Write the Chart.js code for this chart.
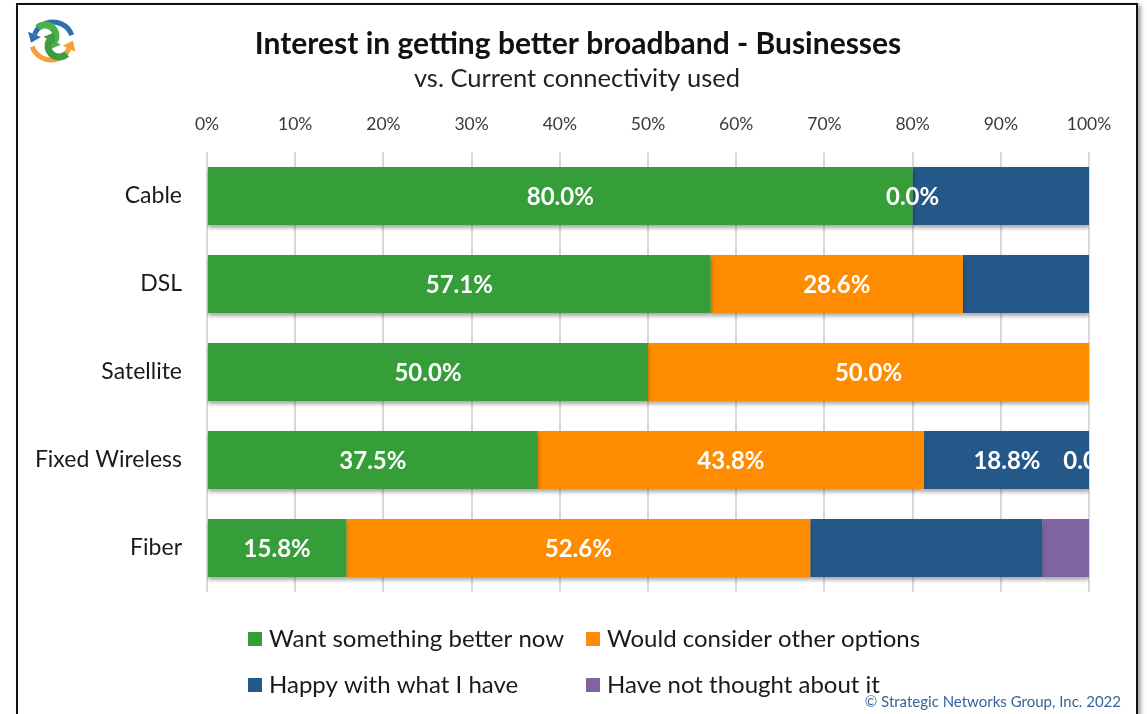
<!DOCTYPE html>
<html>
<head>
<meta charset="utf-8">
<title>Interest in getting better broadband - Businesses</title>
<script src="https://cdn.jsdelivr.net/npm/chart.js@4.4.1/dist/chart.umd.min.js"></script>
<style>
  html, body { margin: 0; padding: 0; background: #fff; }
  #wrap { position: relative; width: 1147px; height: 714px; overflow: hidden; }
  #frame {
    position: absolute; left: 16px; top: 3px; width: 1118px; height: 760px;
    border: 2px solid #111; box-shadow: 3px 2px 4px rgba(0, 0, 0, 0.35);
  }
  canvas { position: absolute; left: 0; top: 0; }
</style>
</head>
<body>
<div id="wrap">
  <div id="frame"></div>
  <canvas id="chart" width="1147" height="714"></canvas>
</div>
<script>
// connection types (rows)
const connections = ["Cable", "DSL", "Satellite", "Fixed Wireless", "Fiber"];

// share of businesses per answer, in %
const wantBetter    = [80.0, 57.1, 50.0, 37.5, 15.8];
const considerOther = [0.0, 28.6, 50.0, 43.8, 52.6];
const happyNow      = [20.0, 14.3, 0.0, 18.8, 26.3];
const notThought    = [0.0, 0.0, 0.0, 0.0, 5.3];

// which segments carry a value label
const labelWant     = [true, true, true, true, true];
const labelConsider = [true, true, true, true, true];
const labelHappy    = [false, false, false, true, false];
const labelNot      = [false, false, false, true, false];

// percent axis
const axisMax = 100;
const axisStep = 10;

const FONT = "Lato, 'Open Sans', sans-serif";

function arrowArc(ctx, cx, cy, r, a0, a1, ccw, color, w) {
  ctx.strokeStyle = color;
  ctx.fillStyle = color;
  ctx.lineWidth = w;
  ctx.lineCap = "butt";
  ctx.beginPath();
  ctx.arc(cx, cy, r, a0, a1, ccw);
  ctx.stroke();
  // head at the end of the arc, pointing along the tangent
  const ex = cx + r * Math.cos(a1), ey = cy + r * Math.sin(a1);
  const dir = a1 + (ccw ? -Math.PI / 2 : Math.PI / 2);
  const tx = Math.cos(dir), ty = Math.sin(dir);
  const nx = -ty, ny = tx;
  ctx.beginPath();
  ctx.moveTo(ex + tx * 9, ey + ty * 9);
  ctx.lineTo(ex + nx * 7, ey + ny * 7);
  ctx.lineTo(ex - nx * 7, ey - ny * 7);
  ctx.closePath();
  ctx.fill();
}

const decorations = {
  id: "decorations",
  afterDraw(chart) {
    const ctx = chart.ctx;
    ctx.save();

    // logo
    arrowArc(ctx, 53, 42, 20, -0.35, -2.75, true, "#2f6fb0", 5);
    arrowArc(ctx, 51, 40, 20, 2.8, 0.45, true, "#f5a03a", 5);
    arrowArc(ctx, 45, 36, 11, -2.3, 0.5, false, "#4caf50", 7);
    arrowArc(ctx, 59, 46, 11, 0.8, -2.6, false, "#3d9c40", 7);

    // titles
    ctx.fillStyle = "#111";
    ctx.textAlign = "center";
    ctx.textBaseline = "alphabetic";
    ctx.font = "bold 30px " + FONT;
    ctx.fillText("Interest in getting better broadband - Businesses", 578, 54);
    ctx.font = "25.5px " + FONT;
    ctx.fillStyle = "#222";
    ctx.fillText("vs. Current connectivity used", 577, 87);

    // legend, two columns
    const cols = [248, 586];
    const rows = [639, 685];
    ctx.textAlign = "left";
    ctx.textBaseline = "middle";
    ctx.font = "24px " + FONT;
    chart.data.datasets.forEach((ds, i) => {
      const x = cols[i % 2], y = rows[Math.floor(i / 2)];
      ctx.fillStyle = ds.backgroundColor;
      ctx.fillRect(x, y - 7, 14, 14);
      ctx.fillStyle = "#1a1a1a";
      ctx.fillText(ds.label, x + 21, y);
    });

    // copyright
    ctx.font = "15px " + FONT;
    ctx.fillStyle = "#36639a";
    ctx.textAlign = "right";
    ctx.fillText("\u00a9 Strategic Networks Group, Inc. 2022", 1121, 702);
    ctx.restore();
  }
};

const barShadow = {
  id: "barShadow",
  beforeDatasetsDraw(chart) {
    const ctx = chart.ctx;
    ctx.save();
    ctx.shadowColor = "rgba(0, 0, 0, 0.35)";
    ctx.shadowBlur = 4;
    ctx.shadowOffsetX = 0;
    ctx.shadowOffsetY = 3;
  },
  afterDatasetsDraw(chart) {
    chart.ctx.restore();
  }
};

const segmentLabels = {
  id: "segmentLabels",
  afterDatasetsDraw(chart) {
    const ctx = chart.ctx;
    const a = chart.chartArea;
    ctx.save();
    ctx.beginPath();
    ctx.rect(a.left, a.top, a.right - a.left, a.bottom - a.top);
    ctx.clip();
    ctx.font = "bold 24px " + FONT;
    ctx.fillStyle = "#fff";
    ctx.textAlign = "center";
    ctx.textBaseline = "middle";
    chart.data.datasets.forEach((ds, i) => {
      chart.getDatasetMeta(i).data.forEach((bar, j) => {
        if (!ds.showLabel[j]) return;
        ctx.fillText(ds.data[j].toFixed(1) + "%", (bar.x + bar.base) / 2, bar.y + 1);
      });
    });
    ctx.restore();
  }
};

new Chart(document.getElementById("chart"), {
  type: "bar",
  data: {
    labels: connections,
    datasets: [
      { label: "Want something better now", data: wantBetter, backgroundColor: "#359e39", showLabel: labelWant },
      { label: "Would consider other options", data: considerOther, backgroundColor: "#ff8c00", showLabel: labelConsider },
      { label: "Happy with what I have", data: happyNow, backgroundColor: "#235889", showLabel: labelHappy },
      { label: "Have not thought about it", data: notThought, backgroundColor: "#8064a2", showLabel: labelNot }
    ]
  },
  options: {
    indexAxis: "y",
    responsive: false,
    animation: false,
    devicePixelRatio: 1,
    barPercentage: 0.66,
    categoryPercentage: 1.0,
    layout: { padding: { left: 20, top: 100, right: 58, bottom: 122 } },
    plugins: {
      legend: { display: false },
      title: { display: false },
      tooltip: { enabled: false }
    },
    scales: {
      x: {
        position: "top",
        stacked: true,
        min: 0,
        max: axisMax,
        afterFit(scale) { scale.height = 52; },
        ticks: {
          stepSize: axisStep,
          padding: 17,
          color: "#3a3a3a",
          font: { family: FONT, size: 17.5 },
          callback: v => v + "%"
        },
        grid: { color: "#d9d9d9", lineWidth: 2, drawTicks: false },
        border: { display: false }
      },
      y: {
        stacked: true,
        afterFit(scale) { scale.width = 187; },
        ticks: {
          padding: 25,
          color: "#1a1a1a",
          font: { family: FONT, size: 23 }
        },
        grid: { display: false, drawTicks: false },
        border: { display: false }
      }
    }
  },
  plugins: [barShadow, segmentLabels, decorations]
});
</script>
</body>
</html>
